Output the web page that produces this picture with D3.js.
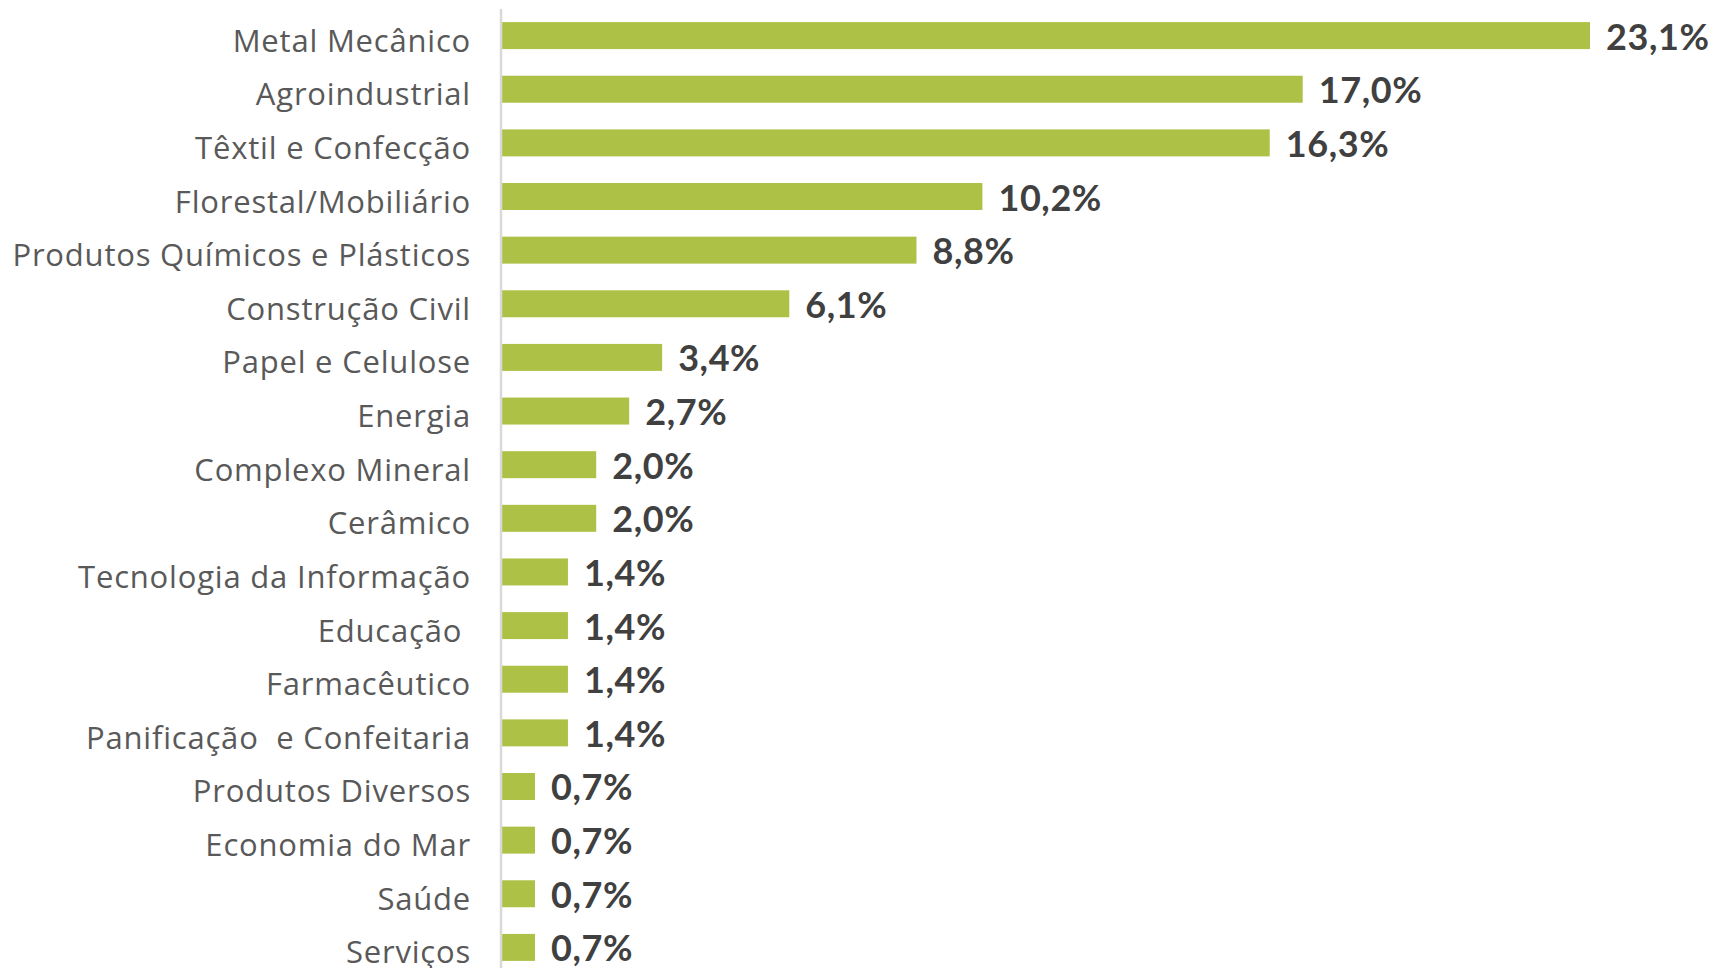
<!DOCTYPE html>
<html>
<head>
<meta charset="utf-8">
<script src="https://cdn.jsdelivr.net/npm/d3@7"></script>
<style>
  html, body { margin: 0; padding: 0; background: #ffffff; }
  svg { display: block; }
</style>
</head>
<body>
<svg id="chart" width="1722" height="968"></svg>
<script>
const categories = [
  "Metal Mecânico",
  "Agroindustrial",
  "Têxtil e Confecção",
  "Florestal/Mobiliário",
  "Produtos Químicos e Plásticos",
  "Construção Civil",
  "Papel e Celulose",
  "Energia",
  "Complexo Mineral",
  "Cerâmico",
  "Tecnologia da Informação",
  "Educação ",
  "Farmacêutico",
  "Panificação  e Confeitaria",
  "Produtos Diversos",
  "Economia do Mar",
  "Saúde",
  "Serviços"
];
const values = [23.1, 17.0, 16.3, 10.2, 8.8, 6.1, 3.4, 2.7, 2.0, 2.0, 1.4, 1.4, 1.4, 1.4, 0.7, 0.7, 0.7, 0.7];
const valueLabels = ["23,1%", "17,0%", "16,3%", "10,2%", "8,8%", "6,1%", "3,4%", "2,7%", "2,0%", "2,0%", "1,4%", "1,4%", "1,4%", "1,4%", "0,7%", "0,7%", "0,7%", "0,7%"];

const data = categories.map((c, i) => ({ cat: c, value: values[i], label: valueLabels[i] }));

const svg = d3.select("#chart");
const axisX = 502;

const x = d3.scaleLinear().domain([0, 23.1]).range([axisX, 1590]);
const y = d3.scaleBand()
  .domain(categories)
  .range([8.7, 974.3])
  .paddingInner(0.497)
  .paddingOuter(0.25);

// bars
svg.append("g")
  .selectAll("rect")
  .data(data)
  .join("rect")
  .attr("x", x(0))
  .attr("y", d => y(d.cat))
  .attr("width", d => x(d.value) - x(0))
  .attr("height", y.bandwidth())
  .attr("fill", "#adc146");

// vertical axis line
svg.append("line")
  .attr("x1", axisX - 1)
  .attr("x2", axisX - 1)
  .attr("y1", 9)
  .attr("y2", 968)
  .attr("stroke", "#d9d9d9")
  .attr("stroke-width", 2.5);

// category labels
svg.append("g")
  .selectAll("text")
  .data(data)
  .join("text")
  .attr("x", 471)
  .attr("y", d => y(d.cat) + y.bandwidth() / 2 + 16)
  .attr("text-anchor", "end")
  .attr("font-family", "'Open Sans', Lato, sans-serif")
  .attr("font-size", 31)
  .attr("letter-spacing", 0.8)
  .attr("fill", "#595959")
  .style("white-space", "pre")
  .text(d => d.cat);

// value labels
svg.append("g")
  .selectAll("text")
  .data(data)
  .join("text")
  .attr("x", d => x(d.value) + 16)
  .attr("y", d => y(d.cat) + y.bandwidth() / 2 + 14)
  .attr("font-family", "Lato, 'Open Sans', sans-serif")
  .attr("font-weight", "bold")
  .attr("font-size", 36)
  .attr("letter-spacing", 0.6)
  .attr("fill", "#404040")
  .text(d => d.label);
</script>
</body>
</html>
